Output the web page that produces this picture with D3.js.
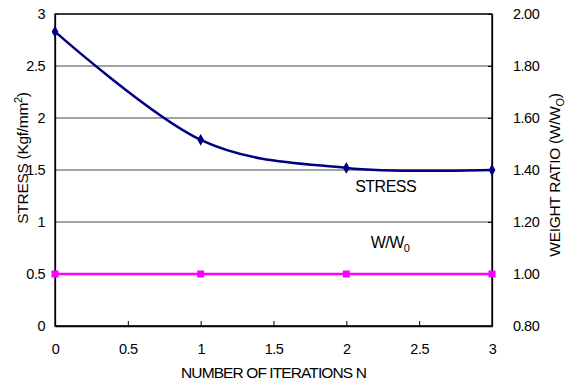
<!DOCTYPE html>
<html>
<head>
<meta charset="utf-8">
<script src="https://cdn.jsdelivr.net/npm/d3@7"></script>
<style>
  body { margin: 0; background: #fff; }
  text { font-family: "Liberation Sans", Arial, sans-serif; }
</style>
</head>
<body>
<div id="chart"></div>
<script>
const width = 565;
const height = 385;
const margin = {top: 14, right: 73, bottom: 59, left: 55};

// data
const iterations = [0, 1, 2, 3];
const stress = [2.83, 1.79, 1.52, 1.50];
const weightRatio = [1.00, 1.00, 1.00, 1.00];
const xTicks = [0, 0.5, 1, 1.5, 2, 2.5, 3];
const leftTicks = [0, 0.5, 1, 1.5, 2, 2.5, 3];
const rightTicks = [0.8, 1.0, 1.2, 1.4, 1.6, 1.8, 2.0];

const w = width - margin.left - margin.right;
const h = height - margin.top - margin.bottom;

let svg = d3.select('#chart')
    .append('svg')
    .attr('width', width)
    .attr('height', height);

let g = svg.append('g')
    .attr('transform', `translate(${margin.left}, ${margin.top})`);

let x = d3.scaleLinear().domain([0, 3]).range([0, w]);
let yL = d3.scaleLinear().domain([0, 3]).range([h, 0]);
let yR = d3.scaleLinear().domain([0.8, 2.0]).range([h, 0]);

// gridlines
g.selectAll('line.grid')
    .data(leftTicks)
    .enter()
    .append('line')
    .attr('class', 'grid')
    .attr('x1', 0).attr('x2', w)
    .attr('y1', d => yL(d)).attr('y2', d => yL(d))
    .attr('stroke', '#444')
    .attr('stroke-width', 1);

// axes
let xAxis = g.append('g')
    .attr('transform', `translate(0, ${h})`)
    .call(d3.axisBottom(x).tickValues(xTicks).tickSizeInner(-5).tickSizeOuter(0).tickPadding(18).tickFormat(d3.format('')));
let leftAxis = g.append('g')
    .call(d3.axisLeft(yL).tickValues(leftTicks).tickSize(0).tickPadding(10).tickFormat(d3.format('')));
let rightAxis = g.append('g')
    .attr('transform', `translate(${w}, 0)`)
    .call(d3.axisRight(yR).tickValues(rightTicks).tickSizeInner(-4).tickSizeOuter(0).tickPadding(21).tickFormat(d3.format('.2f')));

[xAxis, leftAxis, rightAxis].forEach(a => {
    a.selectAll('path').attr('stroke', '#000').attr('stroke-width', 1.3);
    a.selectAll('line').attr('stroke', '#000');
    a.selectAll('text')
        .style('font-size', '14.5px')
        .style('letter-spacing', '-0.5px')
        .attr('fill', '#000');
});

// frame
g.append('rect')
    .attr('width', w).attr('height', h)
    .attr('fill', 'none')
    .attr('stroke', '#000')
    .attr('stroke-width', 1.3);

// W/W0 line (right axis)
let wLine = d3.line()
    .x((d, i) => x(iterations[i]))
    .y(d => yR(d));
g.append('path')
    .datum(weightRatio)
    .attr('d', wLine)
    .attr('fill', 'none')
    .attr('stroke', '#ff00ff')
    .attr('stroke-width', 2.5);
g.selectAll('rect.wm')
    .data(weightRatio)
    .enter()
    .append('rect')
    .attr('class', 'wm')
    .attr('x', (d, i) => x(iterations[i]) - 3.5)
    .attr('y', d => yR(d) - 3.5)
    .attr('width', 7).attr('height', 7)
    .attr('fill', '#ff00ff');

// stress line (left axis), smoothed
let sLine = d3.line()
    .x((d, i) => x(iterations[i]))
    .y(d => yL(d))
    .curve(d3.curveCardinal.tension(0));
g.append('path')
    .datum(stress)
    .attr('d', sLine)
    .attr('fill', 'none')
    .attr('stroke', '#000080')
    .attr('stroke-width', 2.5);
g.selectAll('path.sm')
    .data(stress)
    .enter()
    .append('path')
    .attr('class', 'sm')
    .attr('d', d3.symbol(d3.symbolDiamond, 40))
    .attr('transform', (d, i) => `translate(${x(iterations[i])}, ${yL(d)})`)
    .attr('fill', '#000080');

// series labels
g.append('text')
    .attr('x', x(2.27)).attr('y', yL(1.29))
    .attr('text-anchor', 'middle')
    .style('font-size', '16px')
    .style('letter-spacing', '-0.5px')
    .text('STRESS');
let wl = g.append('text')
    .attr('x', x(2.3)).attr('y', yR(1.10))
    .attr('text-anchor', 'middle')
    .style('font-size', '16px')
    .style('letter-spacing', '-0.5px');
wl.append('tspan').text('W/W');
wl.append('tspan').attr('dy', 4).style('font-size', '11px').text('0');

// axis titles
svg.append('text')
    .attr('x', margin.left + w / 2).attr('y', 378)
    .attr('text-anchor', 'middle')
    .style('font-size', '15.5px')
    .style('letter-spacing', '-0.9px')
    .text('NUMBER OF ITERATIONS N');

let lt = svg.append('text')
    .attr('transform', `translate(28, 158) rotate(-90)`)
    .attr('text-anchor', 'middle')
    .style('font-size', '15.5px')
    .style('letter-spacing', '-0.3px');
lt.append('tspan').text('STRESS (Kgf/mm');
lt.append('tspan').attr('dy', -6).style('font-size', '11px').text('2');
lt.append('tspan').attr('dy', 6).text(')');

let rt = svg.append('text')
    .attr('transform', `translate(560, 175) rotate(-90)`)
    .attr('text-anchor', 'middle')
    .style('font-size', '15.5px')
    .style('letter-spacing', '-0.3px');
rt.append('tspan').text('WEIGHT RATIO (W/W');
rt.append('tspan').attr('dy', 4).style('font-size', '11px').text('O');
rt.append('tspan').attr('dy', -4).text(')');
</script>
</body>
</html>
